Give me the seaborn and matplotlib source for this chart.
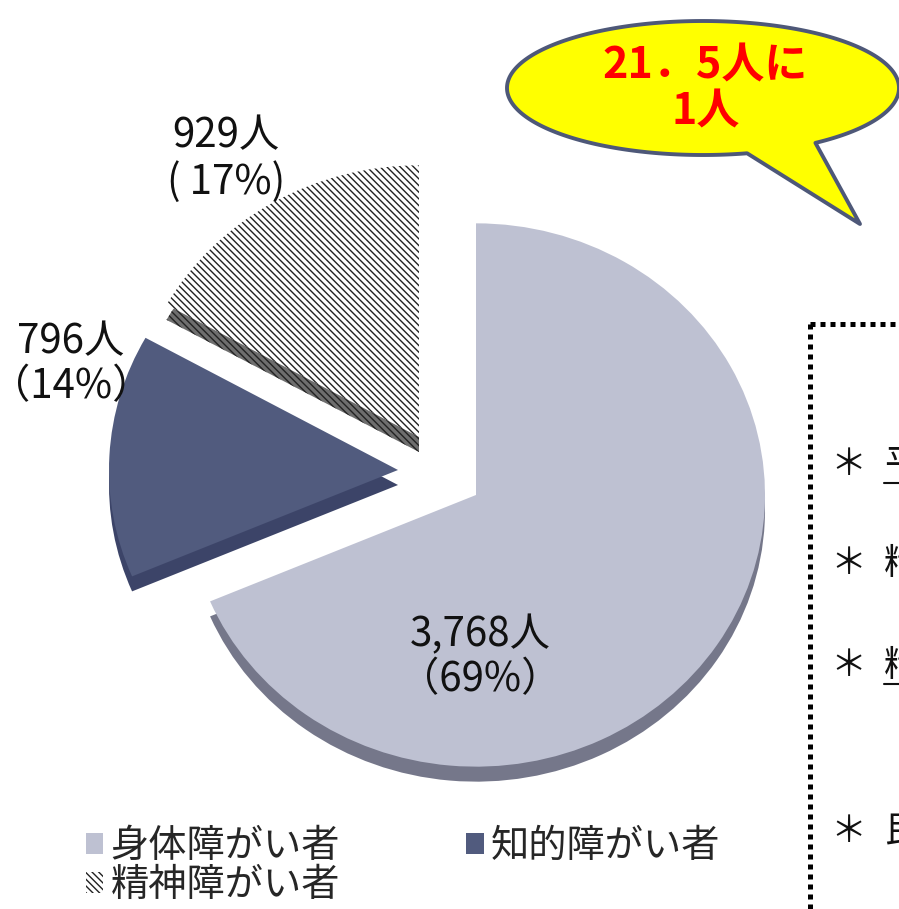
import numpy as np
import matplotlib
matplotlib.use("Agg")
import matplotlib.pyplot as plt
import seaborn as sns
from matplotlib.patches import Polygon
from matplotlib.lines import Line2D

sns.set_theme(style="white")
plt.rcParams['font.family'] = ['Noto Sans CJK JP', 'DejaVu Sans']
plt.rcParams['hatch.linewidth'] = 1.0

# ---- data ----
categories = ["身体障がい者", "知的障がい者", "精神障がい者"]
values = [3768, 796, 929]
label_fmt = ["{n}人\n（{p}%）", "{n}人\n（{p}%）", "{n}人\n( {p}%)"]
bubble_lines = ["21．5人に", "1人"]
note_lines = ["平成", "精神", "精神", "民間"]

# ---- style ----
top_colors = ["#BEC1D2", "#515B7E", "white"]
side_colors = ["#75778A", "#3C4468", "#6E6E6E"]
hatches = [None, None, "\\\\\\\\\\"]
W, H = 899, 909
k = 0.94            # vertical squash of the tilted pie
cx, cy = 476, 495   # pie centre in pixels
R = 289
depth = 15
offsets = [(0, 0), (-78, -25), (-57, -58)]   # explode offsets in pixels
label_pos = [(480, 657), (71, 364), (226, 159)]

fig = plt.figure(figsize=(W / 100, H / 100), dpi=100)
fig.patch.set_facecolor("white")
ax = fig.add_axes([0, 0, 1, 1])

def to_data(px, py):
    return px, (H - py) / k

def draw_pie(colors, shift, zorder, hatch_edge):
    c = to_data(cx, cy + shift)
    wedges, _ = ax.pie(values, startangle=90, counterclock=False, colors=colors,
                       radius=R, center=c,
                       wedgeprops=dict(linewidth=0))
    for w, (dx, dy), h in zip(wedges, offsets, hatches):
        w.set_center((c[0] + dx, c[1] - dy / k))
        w.set_zorder(zorder)
        if h:
            w.set_hatch(h)
            w.set_edgecolor(hatch_edge)
            w.set_linewidth(0)
    return wedges

draw_pie(side_colors, depth, 1, "#222222")
top = draw_pie(top_colors, 0, 2, "#222222")
ax.set_aspect("auto")
ax.set_xlim(0, W)
ax.set_ylim(0, H / k)
ax.axis("off")

# ---- labels ----
total = sum(values)
for v, fmt, (lx, ly) in zip(values, label_fmt, label_pos):
    p = round(v / total * 100)
    fig.text(lx / W, 1 - ly / H, fmt.format(n=f"{v:,}", p=p), ha="center", va="center",
             fontsize=29, color="#111111", linespacing=1.12, zorder=5)

# ---- legend ----
order = [0, 2, 1]
fig.legend([top[i] for i in order], [categories[i] for i in order],
           loc="upper left", bbox_to_anchor=(86 / W, 1 - 827 / H), ncol=2,
           frameon=False, fontsize=27.5, handlelength=0.45, handleheight=0.45,
           handletextpad=0.2, columnspacing=3.3, labelspacing=0.0,
           borderpad=0, borderaxespad=0)

# ---- overlay: bubble and note box ----
ov = fig.add_axes([0, 0, 1, 1], zorder=3)
ov.set_xlim(0, W)
ov.set_ylim(H, 0)
ov.axis("off")
ov.patch.set_alpha(0)

ecx, ecy, ea, eb = 703, 88, 196, 67
t1, t2 = np.deg2rad(77), np.deg2rad(55)
ts = np.linspace(t1, t2 + 2 * np.pi, 300)
pts = [(ecx + ea * np.cos(t), ecy + eb * np.sin(t)) for t in ts]
pts.append((860, 224))
ov.add_patch(Polygon(pts, closed=True, facecolor="#FFFF00", edgecolor="#4E5878",
                     linewidth=2.8, joinstyle="round", zorder=4))
ov.text(705, 66, bubble_lines[0], ha="center", va="center", fontsize=31,
        fontweight="bold", color="#FF0000", zorder=5)
ov.text(706, 112, bubble_lines[1], ha="center", va="center", fontsize=31,
        fontweight="bold", color="#FF0000", zorder=5)

box_kw = dict(color="black", linewidth=3.6, linestyle=(0, (1, 1)),
              solid_capstyle="butt", dash_capstyle="butt", zorder=4)
ov.add_line(Line2D([810, 910], [324, 324], **box_kw))
ov.add_line(Line2D([810, 810], [324, 920], **box_kw))

note_y = [465, 564, 666, 832]
for i, (t, y) in enumerate(zip(note_lines, note_y)):
    ov.text(848, y, "＊", ha="center", va="center", fontsize=26, color="#111111", zorder=5)
    ov.text(884, y, t, ha="left", va="center", fontsize=26, color="#111111", zorder=5)
    if i in (0, 2):
        ov.add_line(Line2D([884, 905], [y + 18, y + 18], color="#111111", linewidth=1.5, zorder=5))

fig.savefig("out.png", dpi=100, facecolor="white")
